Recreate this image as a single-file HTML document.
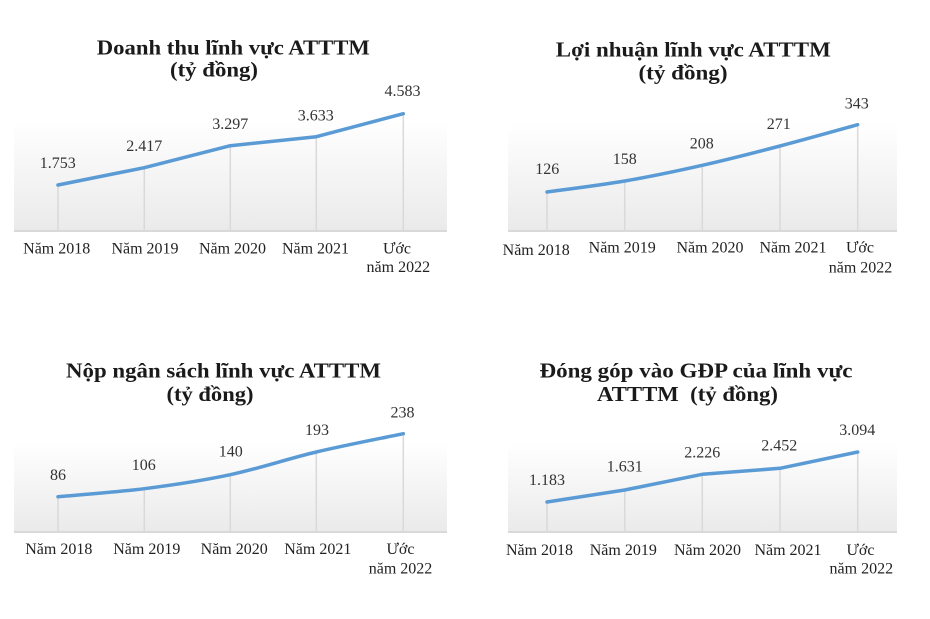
<!DOCTYPE html>
<html>
<head>
<meta charset="utf-8">
<style>
html,body{margin:0;padding:0;background:#fff;}
svg{display:block;}
text{font-family:"Liberation Serif","Times New Roman",serif;}
.t{font-weight:bold;font-size:21px;fill:#1a1a1a;text-anchor:middle;}
.d{font-size:16px;fill:#333;text-anchor:middle;}
.a{font-size:16px;fill:#222;text-anchor:middle;}
.drop{stroke:#d9d9d9;stroke-width:1.5;}
.axis{stroke:#d9d9d9;stroke-width:2;}
.ln{fill:none;stroke:#5b9bd5;stroke-width:3.5;stroke-linejoin:round;stroke-linecap:round;}
</style>
</head>
<body>
<svg width="930" height="619" viewBox="0 0 930 619" xmlns="http://www.w3.org/2000/svg">
<defs>
<linearGradient id="g" x1="0" y1="0" x2="0" y2="1">
<stop offset="0" stop-color="#ffffff"/>
<stop offset="1" stop-color="#eaeaea"/>
</linearGradient>
</defs>

<!-- Chart 1 -->
<rect x="14" y="120" width="433" height="111" fill="url(#g)"/>
<line class="axis" x1="14" y1="231" x2="447" y2="231"/>
<line class="drop" x1="58" y1="185" x2="58" y2="231"/>
<line class="drop" x1="144.3" y1="167.7" x2="144.3" y2="231"/>
<line class="drop" x1="230.3" y1="145.7" x2="230.3" y2="231"/>
<line class="drop" x1="316.3" y1="136.7" x2="316.3" y2="231"/>
<line class="drop" x1="403.3" y1="113.7" x2="403.3" y2="231"/>
<polyline class="ln" points="58,185 144.3,167.7 230.3,145.7 316.3,136.7 403.3,113.7"/>
<text class="t" x="233.3" y="54.5" textLength="273" lengthAdjust="spacingAndGlyphs">Doanh thu lĩnh vực ATTTM</text>
<text class="t" x="214" y="76.5" textLength="88" lengthAdjust="spacingAndGlyphs">(tỷ đồng)</text>
<text class="d" x="57.7" y="168">1.753</text>
<text class="d" x="144.2" y="151">2.417</text>
<text class="d" x="230.2" y="129">3.297</text>
<text class="d" x="315.8" y="120.5">3.633</text>
<text class="d" x="402.5" y="96">4.583</text>
<text class="a" x="56.7" y="253.3">Năm 2018</text>
<text class="a" x="145" y="253.3">Năm 2019</text>
<text class="a" x="232.5" y="253.3">Năm 2020</text>
<text class="a" x="315.5" y="253.3">Năm 2021</text>
<text class="a" x="397" y="253.3">Ước</text>
<text class="a" x="398.3" y="272">năm 2022</text>

<!-- Chart 2 -->
<rect x="508" y="123" width="389" height="108" fill="url(#g)"/>
<line class="axis" x1="508" y1="231" x2="897" y2="231"/>
<line class="drop" x1="547" y1="192" x2="547" y2="231"/>
<line class="drop" x1="624.7" y1="181" x2="624.7" y2="231"/>
<line class="drop" x1="702.3" y1="165.3" x2="702.3" y2="231"/>
<line class="drop" x1="780" y1="146" x2="780" y2="231"/>
<line class="drop" x1="857.7" y1="124.7" x2="857.7" y2="231"/>
<path class="ln" d="M547,192 C559.95,190.17 598.82,185.45 624.7,181 C650.58,176.55 676.42,171.13 702.3,165.3 C728.18,159.47 754.1,152.77 780,146 C805.9,139.23 844.75,128.25 857.7,124.7"/>
<text class="t" x="693.3" y="56.5" textLength="275" lengthAdjust="spacingAndGlyphs">Lợi nhuận lĩnh vực ATTTM</text>
<text class="t" x="683" y="79.5" textLength="89" lengthAdjust="spacingAndGlyphs">(tỷ đồng)</text>
<text class="d" x="547.2" y="174">126</text>
<text class="d" x="624.7" y="164">158</text>
<text class="d" x="701.7" y="148.3">208</text>
<text class="d" x="778.7" y="129">271</text>
<text class="d" x="856.7" y="108.3">343</text>
<text class="a" x="536.2" y="255">Năm 2018</text>
<text class="a" x="622.2" y="252.7">Năm 2019</text>
<text class="a" x="710" y="252.7">Năm 2020</text>
<text class="a" x="793" y="252.7">Năm 2021</text>
<text class="a" x="860" y="252.7">Ước</text>
<text class="a" x="860.5" y="272.7">năm 2022</text>

<!-- Chart 3 -->
<rect x="14" y="442" width="433" height="90" fill="url(#g)"/>
<line class="axis" x1="14" y1="532" x2="447" y2="532"/>
<line class="drop" x1="58" y1="496.7" x2="58" y2="532"/>
<line class="drop" x1="144.3" y1="488.7" x2="144.3" y2="532"/>
<line class="drop" x1="230.3" y1="474.7" x2="230.3" y2="532"/>
<line class="drop" x1="316.3" y1="452" x2="316.3" y2="532"/>
<line class="drop" x1="403.3" y1="433.7" x2="403.3" y2="532"/>
<path class="ln" d="M58,496.7 C72.38,495.37 115.58,492.37 144.3,488.7 C173.02,485.03 201.63,480.82 230.3,474.7 C258.97,468.58 287.47,458.83 316.3,452 C345.13,445.17 388.8,436.75 403.3,433.7"/>
<text class="t" x="223.5" y="377.7" textLength="315" lengthAdjust="spacingAndGlyphs">Nộp ngân sách lĩnh vực ATTTM</text>
<text class="t" x="210" y="401" textLength="87" lengthAdjust="spacingAndGlyphs">(tỷ đồng)</text>
<text class="d" x="58" y="480">86</text>
<text class="d" x="143.8" y="470">106</text>
<text class="d" x="230.8" y="456.7">140</text>
<text class="d" x="317" y="435">193</text>
<text class="d" x="402.5" y="417.3">238</text>
<text class="a" x="58.8" y="554">Năm 2018</text>
<text class="a" x="146.8" y="554">Năm 2019</text>
<text class="a" x="234.2" y="554">Năm 2020</text>
<text class="a" x="317.8" y="554">Năm 2021</text>
<text class="a" x="400.5" y="554">Ước</text>
<text class="a" x="400.5" y="573.3">năm 2022</text>

<!-- Chart 4 -->
<rect x="508" y="443" width="389" height="89" fill="url(#g)"/>
<line class="axis" x1="508" y1="532" x2="897" y2="532"/>
<line class="drop" x1="547" y1="502" x2="547" y2="532"/>
<line class="drop" x1="624.7" y1="490" x2="624.7" y2="532"/>
<line class="drop" x1="702.3" y1="474.3" x2="702.3" y2="532"/>
<line class="drop" x1="780" y1="468.3" x2="780" y2="532"/>
<line class="drop" x1="857.7" y1="452" x2="857.7" y2="532"/>
<polyline class="ln" points="547,502 624.7,490 702.3,474.3 780,468.3 857.7,452"/>
<text class="t" x="696" y="377.7" textLength="313" lengthAdjust="spacingAndGlyphs">Đóng góp vào GĐP của lĩnh vực</text>
<text class="t" x="687.5" y="401" textLength="181" lengthAdjust="spacingAndGlyphs">ATTTM&#160; (tỷ đồng)</text>
<text class="d" x="547" y="485">1.183</text>
<text class="d" x="624.7" y="471.7">1.631</text>
<text class="d" x="702.2" y="457.3">2.226</text>
<text class="d" x="779.2" y="450.7">2.452</text>
<text class="d" x="857.2" y="435">3.094</text>
<text class="a" x="539.5" y="555">Năm 2018</text>
<text class="a" x="623.3" y="555">Năm 2019</text>
<text class="a" x="707.5" y="555">Năm 2020</text>
<text class="a" x="788" y="555">Năm 2021</text>
<text class="a" x="860.5" y="555">Ước</text>
<text class="a" x="861.3" y="573.3">năm 2022</text>
</svg>
</body>
</html>
